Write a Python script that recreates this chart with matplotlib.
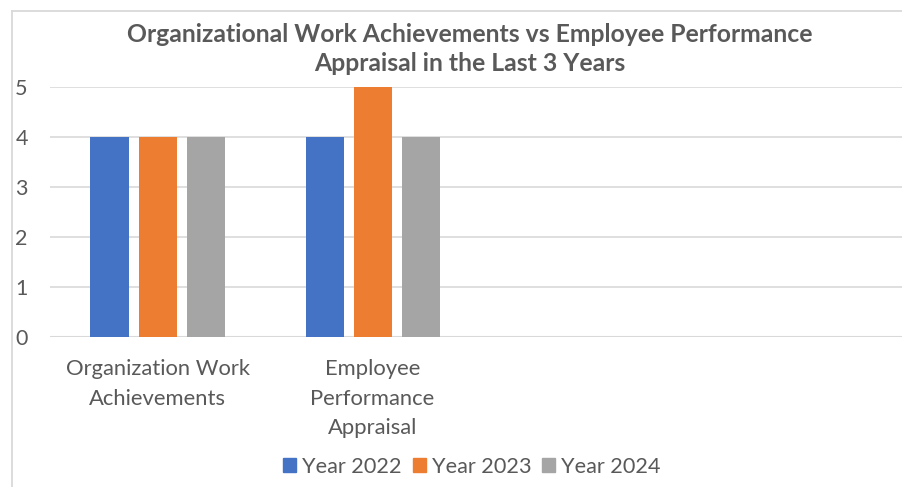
import matplotlib.pyplot as plt
import matplotlib.patches as mpatches
from matplotlib.lines import Line2D
import numpy as np

# data
categories = ["Organization Work\nAchievements", "Employee\nPerformance\nAppraisal", "", ""]
series_names = ["Year 2022", "Year 2023", "Year 2024"]
year_2022 = [4, 4, np.nan, np.nan]
year_2023 = [4, 5, np.nan, np.nan]
year_2024 = [4, 4, np.nan, np.nan]
colors = ["#4472C4", "#ED7D31", "#A5A5A5"]

TEXT = "#595959"
GRID = "#D9D9D9"
FONT = "Lato"


def main():
    fig = plt.figure(figsize=(9.02, 4.87), dpi=100)

    # chart frame (cropped on right/bottom like the reference)
    fx, fy = 11.5 / 902, 1 - 10.5 / 487
    fig.add_artist(Line2D([fx, fx], [0, fy], transform=fig.transFigure, color=GRID, lw=1.3))
    fig.add_artist(Line2D([fx, 1], [fy, fy], transform=fig.transFigure, color=GRID, lw=1.3))

    ax = fig.add_axes([50 / 902, 1 - 337 / 487, 860 / 902, 250 / 487])
    x = np.arange(len(categories))
    offset = 48 / 215
    width = 38 / 215
    for i, (vals, name) in enumerate(zip([year_2022, year_2023, year_2024], series_names)):
        ax.bar(x + (i - 1) * offset, vals, width=width, color=colors[i], label=name, zorder=3)

    ax.set_xlim(-0.5, len(categories) - 0.5)
    ax.set_ylim(0, 5)
    ax.set_yticks(range(0, 6))
    ax.yaxis.grid(True, color=GRID, linewidth=1.2, zorder=0)
    ax.xaxis.grid(False)
    for spine in ax.spines.values():
        spine.set_visible(False)
    ax.axhline(0, color=GRID, linewidth=1.5, zorder=1)

    ax.set_xticks(x)
    ax.set_xticklabels(categories, fontsize=15.8, color=TEXT, family=FONT, linespacing=1.6)
    ax.tick_params(axis="x", length=0, pad=16)
    ax.tick_params(axis="y", length=0, pad=16, labelsize=15.5, labelcolor=TEXT)
    for lab in ax.get_yticklabels():
        lab.set_family(FONT)

    fig.text(470 / 902, 1 - 49 / 487,
             "Organizational Work Achievements vs Employee Performance\nAppraisal in the Last 3 Years",
             ha="center", va="center", fontsize=17.8, fontweight="bold", color=TEXT,
             family=FONT, linespacing=1.3)

    handles = [mpatches.Patch(color=c) for c in colors]
    fig.legend(handles, series_names, loc="center", bbox_to_anchor=(472 / 902, 1 - 467 / 487),
               ncol=3, frameon=False, handlelength=0.6, handleheight=0.6, handletextpad=0.28,
               columnspacing=0.5, prop={"family": FONT, "size": 15.6}, labelcolor=TEXT,
               borderpad=0)

    fig.savefig("out.png", dpi=100)
    plt.close(fig)


if __name__ == "__main__":
    main()
